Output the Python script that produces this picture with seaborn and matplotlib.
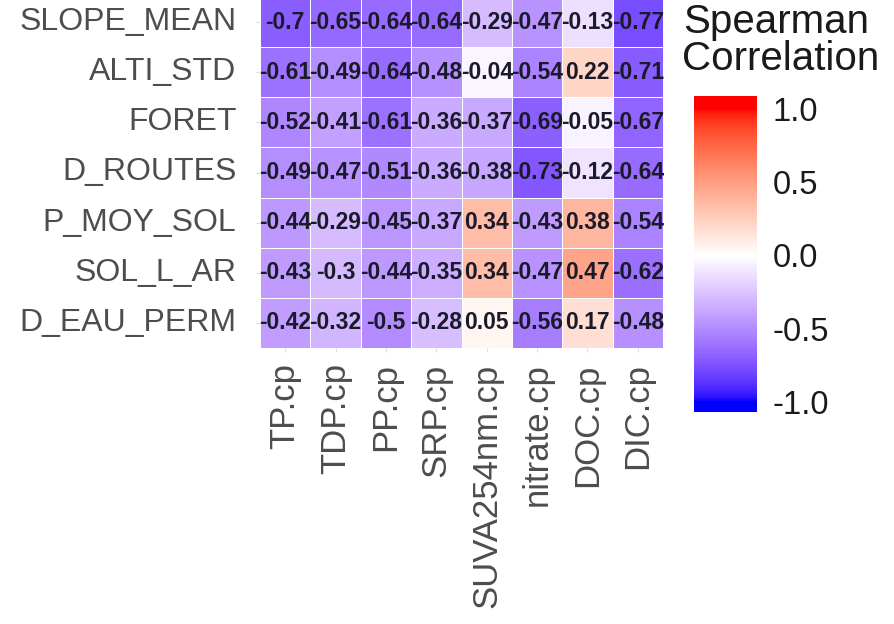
import numpy as np
import pandas as pd
import matplotlib
matplotlib.use("Agg")
import matplotlib.pyplot as plt
from matplotlib.colors import ListedColormap
import seaborn as sns

# Landscape descriptors (rows) and water-chemistry variables (columns)
predictors = ["SLOPE_MEAN", "ALTI_STD", "FORET", "D_ROUTES",
              "P_MOY_SOL", "SOL_L_AR", "D_EAU_PERM"]
responses = ["TP.cp", "TDP.cp", "PP.cp", "SRP.cp",
             "SUVA254nm.cp", "nitrate.cp", "DOC.cp", "DIC.cp"]

slope_mean = [-0.70, -0.65, -0.64, -0.64, -0.29, -0.47, -0.13, -0.77]
alti_std   = [-0.61, -0.49, -0.64, -0.48, -0.04, -0.54,  0.22, -0.71]
foret      = [-0.52, -0.41, -0.61, -0.36, -0.37, -0.69, -0.05, -0.67]
d_routes   = [-0.49, -0.47, -0.51, -0.36, -0.38, -0.73, -0.12, -0.64]
p_moy_sol  = [-0.44, -0.29, -0.45, -0.37,  0.34, -0.43,  0.38, -0.54]
sol_l_ar   = [-0.43, -0.30, -0.44, -0.35,  0.34, -0.47,  0.47, -0.62]
d_eau_perm = [-0.42, -0.32, -0.50, -0.28,  0.05, -0.56,  0.17, -0.48]

cbar_ticks = [-1.0, -0.5, 0.0, 0.5, 1.0]
cbar_labels = ["-1.0", "-0.5", "0.0", "0.5", "1.0"]

corr = pd.DataFrame([slope_mean, alti_std, foret, d_routes,
                     p_moy_sol, sol_l_ar, d_eau_perm],
                    index=predictors, columns=responses)
labels = corr.map(lambda v: f"{round(v, 2):g}")


# Diverging blue-white-red palette interpolated in CIE Lab space
def _srgb_to_lab(rgb):
    rgb = np.asarray(rgb, float)
    lin = np.where(rgb <= 0.04045, rgb / 12.92, ((rgb + 0.055) / 1.055) ** 2.4)
    m = np.array([[0.4124564, 0.3575761, 0.1804375],
                  [0.2126729, 0.7151522, 0.0721750],
                  [0.0193339, 0.1191920, 0.9503041]])
    xyz = m @ lin / np.array([0.95047, 1.0, 1.08883])
    f = np.where(xyz > (6 / 29) ** 3, np.cbrt(xyz), xyz / (3 * (6 / 29) ** 2) + 4 / 29)
    return np.array([116 * f[1] - 16, 500 * (f[0] - f[1]), 200 * (f[1] - f[2])])


def _lab_to_srgb(lab):
    L, a, b = lab
    fy = (L + 16) / 116
    fx = fy + a / 500
    fz = fy - b / 200
    f = np.array([fx, fy, fz])
    xyz = np.where(f > 6 / 29, f ** 3, 3 * (6 / 29) ** 2 * (f - 4 / 29))
    xyz = xyz * np.array([0.95047, 1.0, 1.08883])
    m = np.array([[3.2404542, -1.5371385, -0.4985314],
                  [-0.9692660, 1.8760108, 0.0415560],
                  [0.0556434, -0.2040259, 1.0572252]])
    lin = np.clip(m @ xyz, 0, 1)
    rgb = np.where(lin <= 0.0031308, 12.92 * lin, 1.055 * lin ** (1 / 2.4) - 0.055)
    return np.clip(rgb, 0, 1)


lab_low = _srgb_to_lab([0, 0, 1])
lab_mid = _srgb_to_lab([1, 1, 1])
lab_high = _srgb_to_lab([1, 0, 0])
ramp = []
for v in np.linspace(-1, 1, 512):
    if v < 0:
        lab = lab_mid + (-v) * (lab_low - lab_mid)
    else:
        lab = lab_mid + v * (lab_high - lab_mid)
    ramp.append(_lab_to_srgb(lab))
cmap = ListedColormap(ramp)

sns.set_theme(style="white")
plt.rcParams["font.family"] = ["Liberation Sans", "DejaVu Sans"]

W, H = 895, 624
fig = plt.figure(figsize=(W / 100, H / 100), dpi=100)

# axes placed in pixel coordinates (left, top, right, bottom)
def px_axes(l, t, r, b):
    return fig.add_axes([l / W, 1 - b / H, (r - l) / W, (b - t) / H])

ax = px_axes(260, -3, 663, 348)
cax = px_axes(694, 96, 757, 412)

sns.heatmap(corr, ax=ax, cmap=cmap, vmin=-1, vmax=1, center=None,
            annot=labels, fmt="", linewidths=0.5, linecolor="white",
            cbar_ax=cax,
            annot_kws={"fontsize": 16.5, "fontweight": "bold", "color": "#1A1A2A"})

ax.set_xlabel("")
ax.set_ylabel("")
ax.set_xticklabels(responses, rotation=90, fontsize=25, color="#4D4D4D",
                   va="top", ha="center")
ax.set_yticklabels(predictors, rotation=0, fontsize=23, color="#4D4D4D")
ax.tick_params(axis="both", length=3, width=0.8, color="#DDDDDD")
ax.tick_params(axis="y", left=True, pad=14)
ax.tick_params(axis="x", bottom=True, pad=8)

# colour bar legend
cbar = ax.collections[0].colorbar
cbar.outline.set_visible(False)
cax.set_ylim(-1.07, 1.09)
cax.axhspan(1.0, 1.09, color=cmap(1.0), lw=0)
cax.axhspan(-1.07, -1.0, color=cmap(0.0), lw=0)
cax.set_yticks(cbar_ticks)
cax.set_yticklabels(cbar_labels, fontsize=23.5, color="#1A1A1A")
cax.tick_params(axis="y", direction="in", length=5, width=0.8,
                color="white", left=True, right=True, pad=11)

fig.text(683 / W, 1 - 33 / H, "Spearman", fontsize=29, color="#1A1A1A",
         ha="left", va="baseline")
fig.text(682 / W, 1 - 70 / H, "Correlation", fontsize=29, color="#1A1A1A",
         ha="left", va="baseline")

fig.savefig("out.png", dpi=100, facecolor="white")
